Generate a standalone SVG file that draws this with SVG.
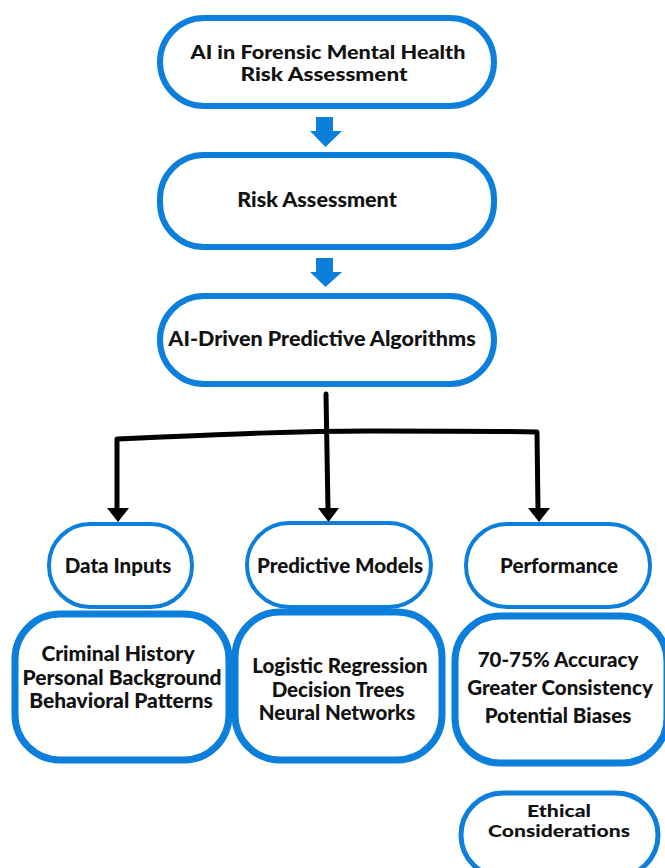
<svg xmlns="http://www.w3.org/2000/svg" width="665" height="868" viewBox="0 0 665 868">
<style>
.n{fill:#fff;stroke:#0b7fdb}
.t{font-family:Lato,"Liberation Sans",sans-serif;font-weight:900;fill:#111;text-anchor:middle}
.big{font-size:21.5px}
.hd{font-size:18.3px}
.mid{font-size:21px}
.sm{font-size:20.5px}
.eth{font-size:16.5px}
.ba{fill:#0b7fdb}
.c{fill:none;stroke:#000;stroke-width:5;stroke-linecap:round;stroke-linejoin:round}
</style>
<rect width="665" height="868" fill="#fff"/>
<g id="n1"><rect class="n" x="160" y="18" width="334" height="88" rx="44" stroke-width="6"/>
<text class="t hd" x="328" y="59" textLength="275" lengthAdjust="spacingAndGlyphs">AI in Forensic Mental Health</text>
<text class="t hd" x="324" y="81" textLength="167" lengthAdjust="spacingAndGlyphs">Risk Assessment</text></g>
<g id="n2"><rect class="n" x="160" y="155" width="334" height="92" rx="44" stroke-width="6"/>
<text class="t big" x="317" y="207">Risk Assessment</text></g>
<g id="n3"><rect class="n" x="160" y="296" width="334" height="88" rx="44" stroke-width="6"/>
<text class="t big" x="322" y="346">AI-Driven Predictive Algorithms</text></g>
<g id="n4"><rect class="n" x="49" y="524" width="143" height="83" rx="41" stroke-width="4"/>
<text class="t sm" x="118" y="573">Data Inputs</text></g>
<g id="n5"><rect class="n" x="247" y="523" width="184" height="84" rx="42" stroke-width="4"/>
<text class="t sm" x="340" y="573">Predictive Models</text></g>
<g id="n6"><rect class="n" x="466" y="524" width="184" height="83" rx="41" stroke-width="4"/>
<text class="t sm" x="559" y="573">Performance</text></g>
<g id="n7"><rect class="n" x="15" y="614" width="214" height="146" rx="45" stroke-width="7"/>
<text class="t mid" x="118" y="661">Criminal History</text>
<text class="t mid" x="122" y="685">Personal Background</text>
<text class="t mid" x="121" y="708">Behavioral Patterns</text></g>
<g id="n8"><rect class="n" x="235" y="612" width="207" height="148" rx="45" stroke-width="7"/>
<text class="t sm" x="340" y="673">Logistic Regression</text>
<text class="t sm" x="338" y="697">Decision Trees</text>
<text class="t sm" x="337" y="720">Neural Networks</text></g>
<g id="n9"><rect class="n" x="455" y="616" width="212" height="147" rx="45" stroke-width="7"/>
<text class="t sm" x="558" y="667">70-75% Accuracy</text>
<text class="t sm" x="560" y="695">Greater Consistency</text>
<text class="t sm" x="558" y="723">Potential Biases</text></g>
<g id="n10"><rect class="n" x="461" y="793" width="197" height="84" rx="42" stroke-width="5"/>
<text class="t eth" x="559" y="817" textLength="64" lengthAdjust="spacingAndGlyphs">Ethical</text>
<text class="t eth" x="559" y="837" textLength="142" lengthAdjust="spacingAndGlyphs">Considerations</text></g>
<g id="connectors">
<polygon class="ba" points="316,117 333,117 333,131 342,131 325.5,147 310,131 316,131"/>
<polygon class="ba" points="316,258 333,258 333,272 342,272 325.5,287 310,272 316,272"/>
<path class="c" d="M326,394 L328,510"/>
<path class="c" d="M117,511 L117,439 C230,434 300,431 370,431 C450,431 500,431 537,432 L538,511"/>
<polygon points="107,508 129,508 118,522"/>
<polygon points="318,508 339,508 328.5,522"/>
<polygon points="528,508 550,508 539,522"/>
</g>
</svg>
